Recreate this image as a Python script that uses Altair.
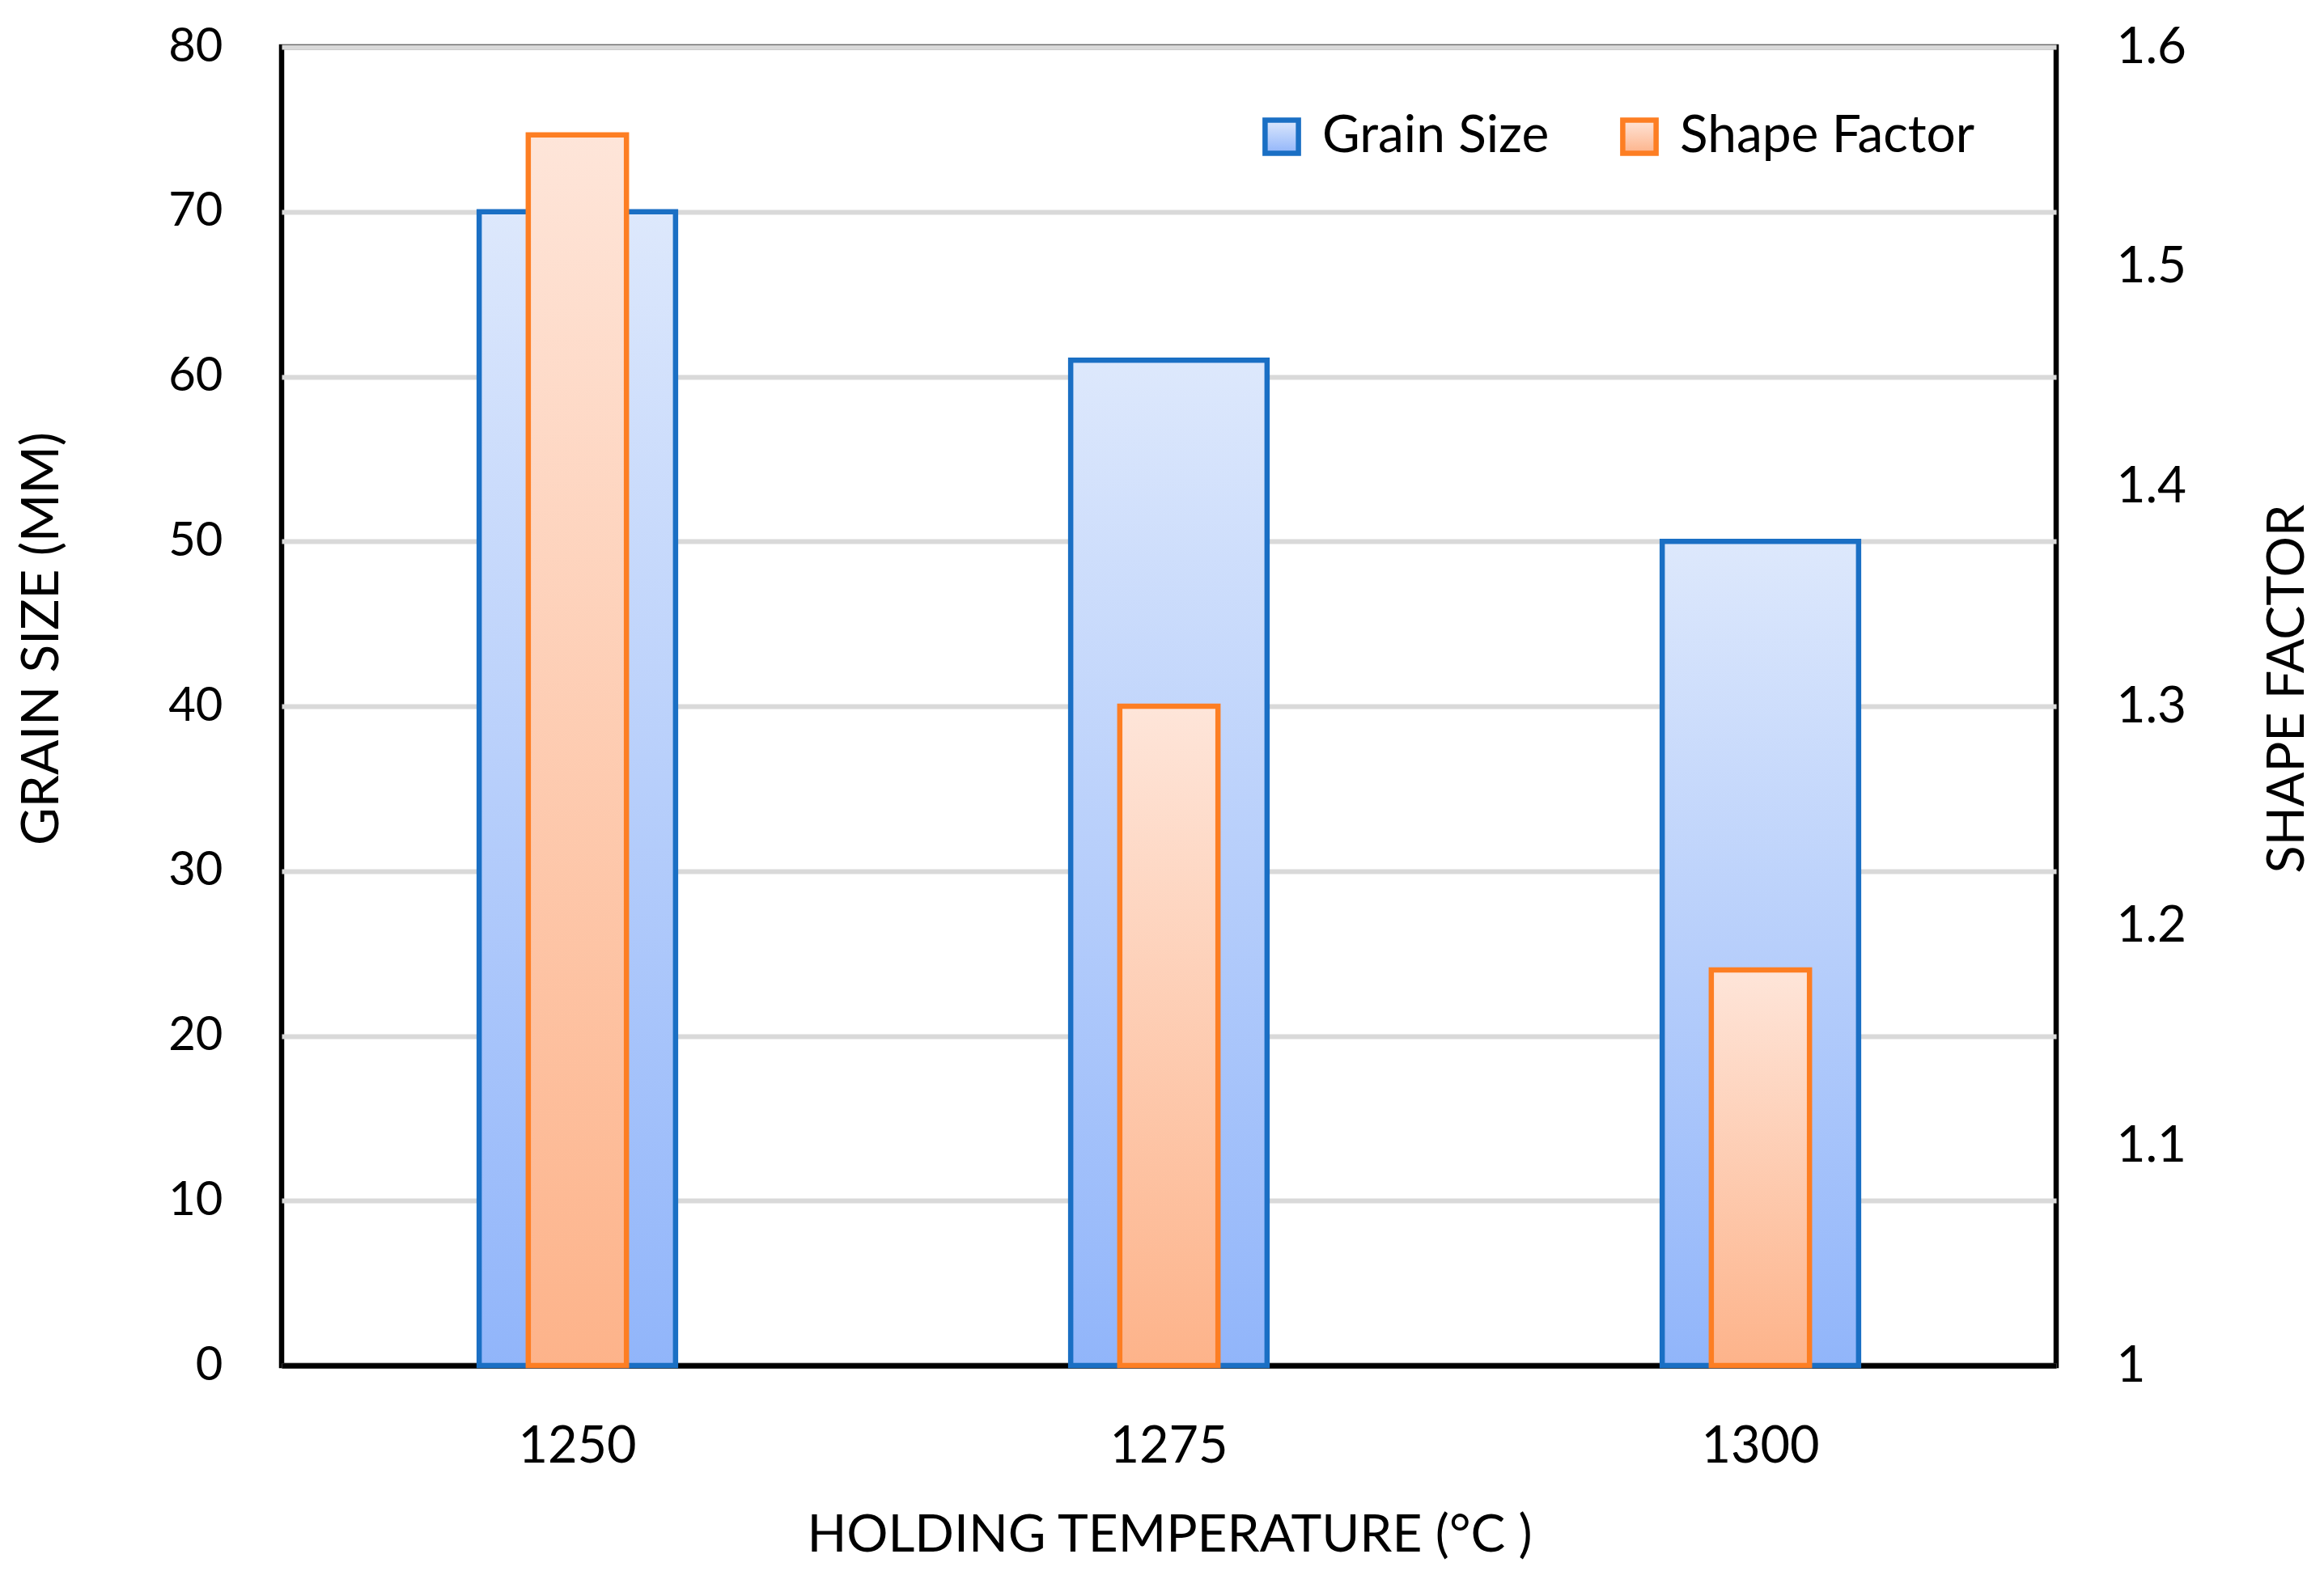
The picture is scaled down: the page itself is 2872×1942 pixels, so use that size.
import altair as alt
import pandas as pd

# ---- data ----
temps = ["1250", "1275", "1300"]
grain_size = [70, 61, 50]
shape_factor = [1.56, 1.30, 1.18]
grain_ticks = [0, 10, 20, 30, 40, 50, 60, 70, 80]
shape_ticks = [1, 1.1, 1.2, 1.3, 1.4, 1.5, 1.6]
shape_base = 1

df = pd.DataFrame({
    "temp": temps,
    "grain": grain_size,
    "shape": shape_factor,
    "s1": ["Grain Size"] * len(temps),
    "s2": ["Shape Factor"] * len(temps),
})

FONT = "Lato"
BLUE = "#1a6fc4"
ORANGE = "#fd7e23"

blue_grad = alt.LinearGradient(
    gradient="linear", x1=0, x2=0, y1=0, y2=1,
    stops=[alt.GradientStop(color="#dde8fc", offset=0),
           alt.GradientStop(color="#91b5fa", offset=1)],
)
orange_grad = alt.LinearGradient(
    gradient="linear", x1=0, x2=0, y1=0, y2=1,
    stops=[alt.GradientStop(color="#fee5d9", offset=0),
           alt.GradientStop(color="#fdb38a", offset=1)],
)

x_enc = alt.X(
    "temp:N",
    sort=temps,
    scale=alt.Scale(paddingInner=0, paddingOuter=0),
    axis=alt.Axis(
        title="HOLDING TEMPERATURE (°C )",
        labelAngle=0, labelFontSize=63, labelPadding=69, ticks=False,
        domainColor="black", domainWidth=6.5,
        titleFontSize=64, titleX=1097, titleY=210,
        titleAlign="center", titleBaseline="middle",
    ),
)

base = alt.Chart(df)

grain_bars = base.mark_bar(
    width=alt.RelativeBandSize(0.332), fill=blue_grad, strokeWidth=6.5,
).encode(
    x=x_enc,
    y=alt.Y(
        "grain:Q",
        scale=alt.Scale(domain=[0, 80], nice=False, zero=True),
        axis=alt.Axis(
            title="GRAIN SIZE (MM)", values=grain_ticks, ticks=False,
            labelFontSize=58, labelPadding=73, domain=False,
            grid=True, gridColor="#d9d9d9", gridWidth=6,
            titleFontSize=64, titleAngle=270, titleX=-296, titleY=731,
            titleAlign="center", titleBaseline="middle",
        ),
    ),
    stroke=alt.Stroke(
        "s1:N",
        scale=alt.Scale(domain=["Grain Size"], range=[BLUE]),
        legend=alt.Legend(
            title=None, orient="none", legendX=1204, legendY=79,
            symbolType="square", symbolSize=1700, symbolStrokeWidth=6.5,
            symbolFillColor="#bcd2fb", labelFontSize=64, labelOffset=18,
            labelLimit=1000, padding=0,
        ),
    ),
)

shape_bars = base.mark_bar(
    width=alt.RelativeBandSize(0.166), fill=orange_grad, strokeWidth=6.5,
).encode(
    x=x_enc,
    y=alt.Y(
        "shape:Q",
        scale=alt.Scale(domain=[1, 1.6], nice=False, zero=False),
        axis=alt.Axis(
            title="SHAPE FACTOR", orient="right", values=shape_ticks,
            format="~g", ticks=False, labelFontSize=62, labelPadding=74,
            domain=False, grid=False,
            titleFontSize=63, titleAngle=270, titleX=286, titleY=793,
            titleAlign="center", titleBaseline="middle",
        ),
    ),
    y2=alt.datum(shape_base),
    stroke=alt.Stroke(
        "s2:N",
        scale=alt.Scale(domain=["Shape Factor"], range=[ORANGE]),
        legend=alt.Legend(
            title=None, orient="none", legendX=1646, legendY=79,
            symbolType="square", symbolSize=1700, symbolStrokeWidth=6.5,
            symbolFillColor="#fecdb0", labelFontSize=64, labelOffset=18,
            labelLimit=1000, padding=0,
        ),
    ),
)

chart = alt.layer(grain_bars, shape_bars).resolve_scale(
    y="independent", stroke="independent"
).resolve_legend(stroke="independent").properties(
    width=2193,
    height=1630,
    autosize=alt.AutoSizeParams(type="none"),
    padding={"left": 340, "top": 50, "right": 322, "bottom": 245},
).configure_view(
    stroke="black", strokeWidth=6.5,
).configure_axis(
    labelFont=FONT, titleFont=FONT, labelColor="black", titleColor="black",
    titleFontWeight="normal",
).configure_legend(
    labelFont=FONT, labelColor="black",
)

chart.save("out.html", embed_options={"renderer": "svg", "actions": False})
